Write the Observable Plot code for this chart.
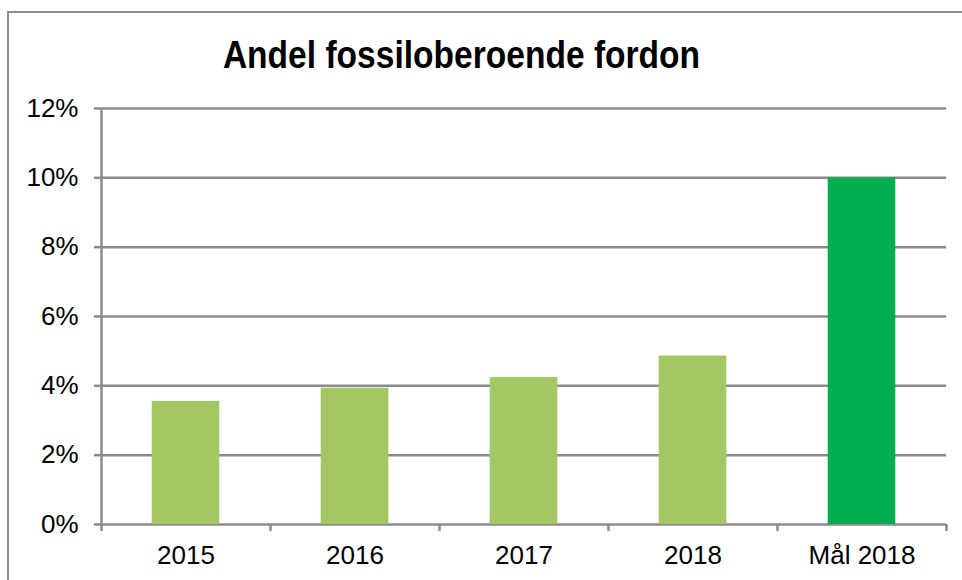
<!DOCTYPE html>
<html><head><meta charset="utf-8">
<script src="https://cdn.jsdelivr.net/npm/d3@7"></script>
<script src="https://cdn.jsdelivr.net/npm/@observablehq/plot@0.6"></script>
<style>
body{margin:0;background:#fff;}
#wrap{position:relative;width:962px;height:580px;overflow:hidden;font-family:"Liberation Sans",Arial,sans-serif;}
#frame{position:absolute;left:7px;top:11px;width:1000px;height:620px;border:2px solid #8c8c8c;box-sizing:border-box;}
#title{position:absolute;left:0;top:36px;width:923px;text-align:center;font-size:38px;line-height:38px;font-weight:bold;color:#000;transform:scaleX(0.883);transform-origin:461.5px 50%;white-space:nowrap;}
#chart{position:absolute;left:0;top:0;}
</style>
</head><body>
<div id="wrap">
  <div id="frame"></div>
  <div id="chart"></div>
  <div id="title">Andel fossiloberoende fordon</div>
</div>
<script>
const categories = ["2015", "2016", "2017", "2018", "Mål 2018"];
const values = [0.0355, 0.0393, 0.0424, 0.0486, 0.10];
const kinds = ["utfall", "utfall", "utfall", "utfall", "mål"];
const yTicks = [0, 0.02, 0.04, 0.06, 0.08, 0.10, 0.12];

const data = categories.map((c, i) => ({i, category: c, value: values[i], kind: kinds[i]}));
const bounds = d3.range(categories.length + 1);
const centers = categories.map((c, i) => i + 0.5);
const grey = "#8c8c8c";

const plot = Plot.plot({
  width: 962,
  height: 580,
  marginLeft: 101,
  marginRight: 16,
  marginTop: 108,
  marginBottom: 56,
  style: {background: "transparent", fontFamily: "'Liberation Sans', Arial, sans-serif", fontSize: "26px", color: "#000"},
  x: {domain: [0, categories.length]},
  y: {domain: [0, 0.12]},
  color: {domain: ["utfall", "mål"], range: ["#a3c863", "#00ae4f"]},
  marks: [
    Plot.ruleY(yTicks, {x1: 0, x2: categories.length, stroke: grey, strokeWidth: 2.5}),
    Plot.ruleX([0], {y1: 0, y2: 0.12, stroke: grey, strokeWidth: 2.5}),
    Plot.rectY(data, {x1: d => d.i + 0.3, x2: d => d.i + 0.7, y1: 0, y2: "value", fill: "kind"}),
    Plot.axisY(yTicks, {tickFormat: d3.format(".0%"), tickSize: 7, tickPadding: 16, stroke: grey, strokeWidth: 2.5, fill: "#000", label: null}),
    Plot.axisX(bounds, {tickFormat: () => "", tickSize: 7, stroke: grey, strokeWidth: 2.5, label: null}),
    Plot.axisX(centers, {tickFormat: d => categories[Math.floor(d)], tickSize: 0, tickPadding: 21, fill: "#000", label: null})
  ]
});
document.getElementById("chart").appendChild(plot);
</script>
</body></html>
